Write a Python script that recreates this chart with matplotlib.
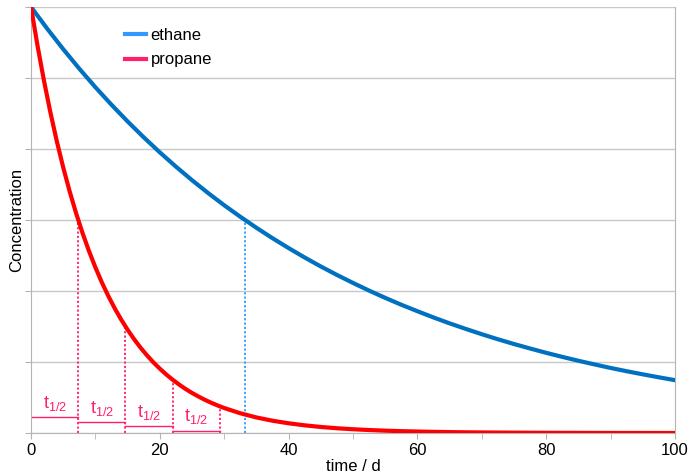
import matplotlib
matplotlib.use("Agg")
import matplotlib.pyplot as plt
from matplotlib.lines import Line2D

plt.rcParams['font.family'] = ['Liberation Sans', 'DejaVu Sans']
plt.rcParams['mathtext.fontset'] = 'custom'
plt.rcParams['mathtext.rm'] = 'Liberation Sans'

# ethane, sampled every 2.5 d
eth_time = [0, 2.5, 5, 7.5, 10, 12.5, 15, 17.5, 20, 22.5, 25, 27.5, 30, 32.5, 35, 37.5,
            40, 42.5, 45, 47.5, 50, 52.5, 55, 57.5, 60, 62.5, 65, 67.5, 70, 72.5, 75, 77.5,
            80, 82.5, 85, 87.5, 90, 92.5, 95, 97.5, 100]
ethane = [6.000, 5.695, 5.405, 5.130, 4.869, 4.622, 4.387, 4.164, 3.952, 3.751,
          3.560, 3.379, 3.207, 3.045, 2.890, 2.743, 2.604, 2.471, 2.345, 2.226,
          2.113, 2.005, 1.903, 1.806, 1.715, 1.627, 1.544, 1.466, 1.391, 1.320,
          1.253, 1.190, 1.129, 1.072, 1.017, 0.966, 0.916, 0.870, 0.826, 0.784, 0.744]

# propane, every day at first (steep part), then every 2.5 d
prop_time = [0, 1, 2, 3, 4, 5, 6, 7, 8, 9, 10, 11, 12, 13, 14, 15, 16, 17, 18, 19, 20,
             21, 22, 23, 24, 25, 26, 27, 28, 29, 30, 32.5, 35, 37.5, 40, 42.5, 45, 47.5,
             50, 52.5, 55, 57.5, 60, 62.5, 65, 67.5, 70, 75, 80, 90, 100]
propane = [6.000, 5.459, 4.966, 4.518, 4.110, 3.739, 3.402, 3.095, 2.816, 2.562, 2.331,
           2.120, 1.929, 1.755, 1.597, 1.453, 1.322, 1.202, 1.094, 0.995, 0.906,
           0.824, 0.750, 0.682, 0.620, 0.564, 0.514, 0.467, 0.425, 0.387, 0.352,
           0.278, 0.219, 0.173, 0.137, 0.108, 0.085, 0.067,
           0.053, 0.042, 0.033, 0.026, 0.021, 0.016, 0.013, 0.010, 0.008, 0.005, 0.003,
           0.001, 0.0]

# half-life markers
prop_half_t = [0, 7.33, 14.66, 21.99, 29.32]
prop_half_c = [3.0, 1.5, 0.75, 0.375]
bar_heights = [0.22, 0.155, 0.10, 0.035]
eth_half_t = 33.2
eth_half_c = 3.0

blue = '#0070C0'
red = '#FF0000'
light_blue = '#3399FF'
pink = '#FF1F6A'
gray = '#B4B4B4'

fig = plt.figure(figsize=(6.91, 4.75), dpi=100)
ax = fig.add_axes([0.0449, 0.0884, 0.932, 0.897])

ax.plot(eth_time, ethane, color=blue, lw=3.0, zorder=3)
ax.plot(prop_time, propane, color=red, lw=3.0, zorder=3)

# dotted half-life lines
for t, c in zip(prop_half_t[1:], prop_half_c):
    ax.plot([t, t], [0, c], color=pink, lw=1.3, ls=(0, (1.2, 1.2)), zorder=2)
ax.plot([eth_half_t, eth_half_t], [0, eth_half_c], color=light_blue, lw=1.3,
        ls=(0, (1.2, 1.2)), zorder=2)

# t1/2 bars and labels
for i, h in enumerate(bar_heights):
    t0, t1 = prop_half_t[i], prop_half_t[i + 1]
    ax.plot([t0, t1], [h, h], color=pink, lw=1.0, zorder=2)
    ax.text((t0 + t1) / 2, h + 0.06, r'$\mathregular{t_{1/2}}$', color=pink,
            fontsize=13, ha='center', va='bottom')

ax.set_xlim(0, 100)
ax.set_ylim(0, 6)
ax.set_xticks([0, 20, 40, 60, 80, 100])
ax.set_xticks([10, 30, 50, 70, 90], minor=True)
ax.set_yticks([0, 1, 2, 3, 4, 5, 6])
ax.set_yticklabels([])
ax.grid(axis='y', color='#C8C8C8', lw=1.0)
ax.set_axisbelow(True)
ax.tick_params(axis='both', which='both', length=4, color=gray, labelsize=12, pad=3)
for s in ax.spines.values():
    s.set_color(gray)
ax.spines['top'].set_visible(False)

ax.set_xlabel('time / d', fontsize=12, labelpad=1)
ax.set_ylabel('Concentration', fontsize=12, labelpad=-2)

handles = [Line2D([], [], color=light_blue, lw=3),
           Line2D([], [], color=pink, lw=3)]
ax.legend(handles, ['ethane', 'propane'], loc='upper left', bbox_to_anchor=(0.122, 0.985),
          frameon=False, fontsize=12, handlelength=1.3, handletextpad=0.25,
          labelspacing=0.55)

fig.savefig('out.png', dpi=100)
